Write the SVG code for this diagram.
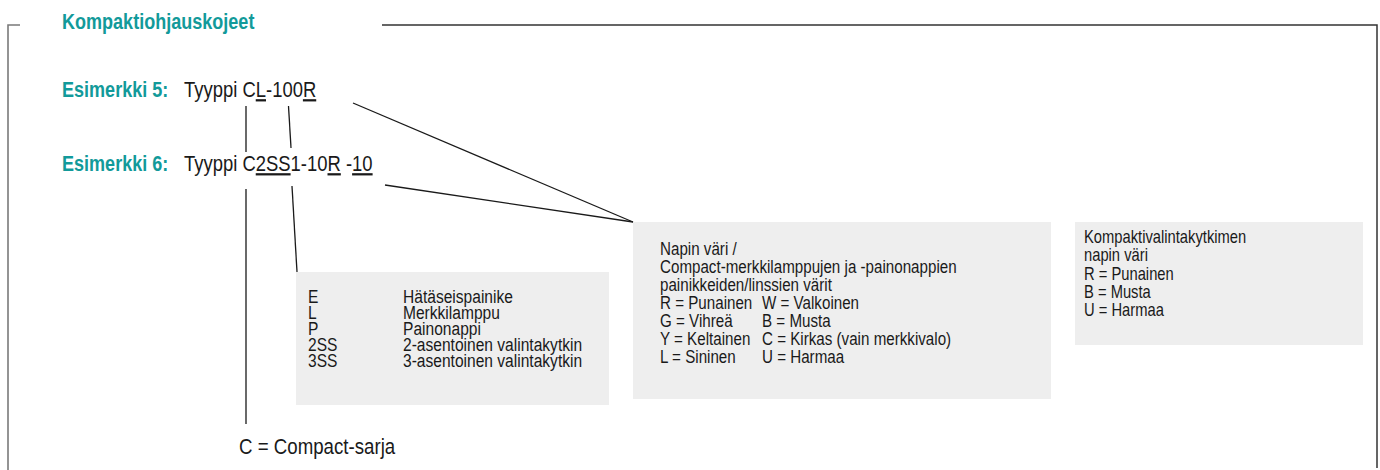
<svg xmlns="http://www.w3.org/2000/svg" width="1380" height="470" viewBox="0 0 1380 470">
  <style>
    .t { font-family: "Liberation Sans", Arial, sans-serif; fill: #1a1a1a; }
    .teal { font-family: "Liberation Sans", Arial, sans-serif; fill: #129a9a; font-weight: bold; font-size: 22px; }
    .ex { font-size: 22.5px; }
    .b1 { font-size: 19px; }
    .b2 { font-size: 18.5px; }
    .b3 { font-size: 18px; }
    .box { fill: #eeeeee; }
    .conn line { stroke: #1a1a1a; stroke-width: 1.3; fill: none; }
    .u { text-decoration: underline; }
  </style>
  <rect x="0" y="0" width="1380" height="470" fill="#ffffff"/>

  <g id="frame" fill="none">
    <path d="M8 470 V25 H20" stroke="#7a7a7a" stroke-width="1.6"/>
    <path d="M382 25 H1377 V468" stroke="#333333" stroke-width="1.5"/>
  </g>

  <g id="title">
    <text class="teal" transform="translate(62 29) scale(0.82 1)" font-size="22.6">Kompaktiohjauskojeet</text>
  </g>

  <g id="example5">
    <text class="teal" transform="translate(62 97) scale(0.82 1)">Esimerkki 5:</text>
    <text class="t ex" transform="translate(184 97) scale(0.82 1)">Tyyppi C<tspan class="u">L</tspan>-100<tspan class="u">R</tspan></text>
  </g>

  <g id="example6">
    <text class="teal" transform="translate(62 171) scale(0.82 1)">Esimerkki 6:</text>
    <text class="t ex" transform="translate(184 171) scale(0.82 1)">Tyyppi C<tspan class="u">2SS</tspan>1-10<tspan class="u">R</tspan> -<tspan class="u">10</tspan></text>
  </g>

  <g id="connectors" class="conn">
    <line x1="246" y1="106" x2="246" y2="152"/>
    <line x1="288.5" y1="106" x2="291" y2="148"/>
    <line x1="353" y1="103" x2="633" y2="222"/>
    <line x1="385" y1="185" x2="633" y2="222"/>
    <line x1="246" y1="189" x2="246" y2="424"/>
    <line x1="292" y1="186" x2="297" y2="272"/>
  </g>

  <g id="box-type">
    <rect class="box" x="296" y="272" width="313" height="133"/>
    <text class="t b1" transform="translate(308 303) scale(0.82 1)">E</text>
    <text class="t b1" transform="translate(403 303) scale(0.82 1)">Hätäseispainike</text>
    <text class="t b1" transform="translate(308 319) scale(0.82 1)">L</text>
    <text class="t b1" transform="translate(403 319) scale(0.82 1)">Merkkilamppu</text>
    <text class="t b1" transform="translate(308 335) scale(0.82 1)">P</text>
    <text class="t b1" transform="translate(403 335) scale(0.82 1)">Painonappi</text>
    <text class="t b1" transform="translate(308 351) scale(0.82 1)">2SS</text>
    <text class="t b1" transform="translate(403 351) scale(0.82 1)">2-asentoinen valintakytkin</text>
    <text class="t b1" transform="translate(308 367) scale(0.82 1)">3SS</text>
    <text class="t b1" transform="translate(403 367) scale(0.82 1)">3-asentoinen valintakytkin</text>
  </g>

  <g id="box-colour">
    <rect class="box" x="633" y="222" width="418" height="177"/>
    <text class="t b2" transform="translate(660 255) scale(0.82 1)">Napin väri /</text>
    <text class="t b2" transform="translate(660 273) scale(0.82 1)">Compact-merkkilamppujen ja -painonappien</text>
    <text class="t b2" transform="translate(660 291) scale(0.82 1)">painikkeiden/linssien värit</text>
    <text class="t b2" transform="translate(660 309) scale(0.82 1)">R = Punainen</text>
    <text class="t b2" transform="translate(762 309) scale(0.82 1)">W = Valkoinen</text>
    <text class="t b2" transform="translate(660 327) scale(0.82 1)">G = Vihreä</text>
    <text class="t b2" transform="translate(762 327) scale(0.82 1)">B = Musta</text>
    <text class="t b2" transform="translate(660 345) scale(0.82 1)">Y = Keltainen</text>
    <text class="t b2" transform="translate(762 345) scale(0.82 1)">C = Kirkas (vain merkkivalo)</text>
    <text class="t b2" transform="translate(660 363) scale(0.82 1)">L = Sininen</text>
    <text class="t b2" transform="translate(762 363) scale(0.82 1)">U = Harmaa</text>
  </g>

  <g id="box-selector">
    <rect class="box" x="1075" y="222" width="288" height="123"/>
    <text class="t b3" transform="translate(1084 243) scale(0.82 1)">Kompaktivalintakytkimen</text>
    <text class="t b3" transform="translate(1084 261) scale(0.82 1)">napin väri</text>
    <text class="t b3" transform="translate(1084 280) scale(0.82 1)">R = Punainen</text>
    <text class="t b3" transform="translate(1084 298) scale(0.82 1)">B = Musta</text>
    <text class="t b3" transform="translate(1084 316) scale(0.82 1)">U = Harmaa</text>
  </g>

  <g id="series">
    <text class="t" transform="translate(239 454) scale(0.82 1)" font-size="22.8">C = Compact-sarja</text>
  </g>
</svg>
